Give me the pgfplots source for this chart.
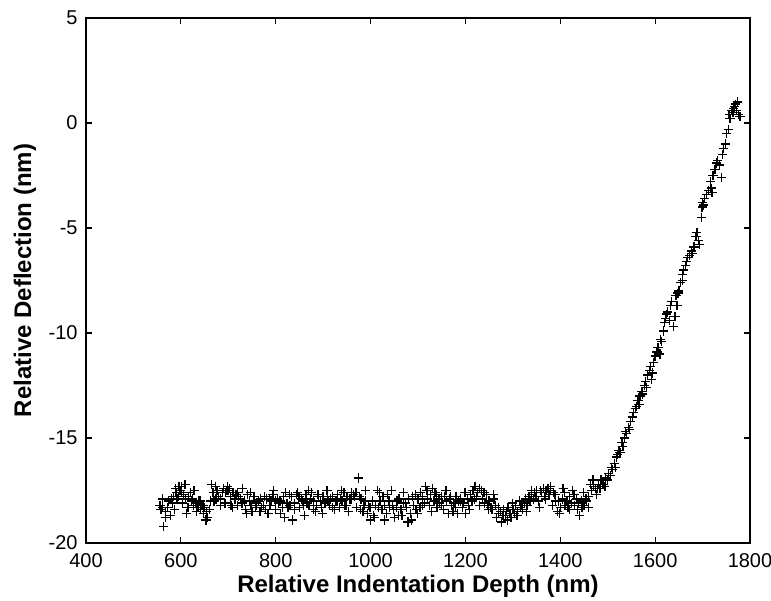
\documentclass[border=0pt]{standalone}
\usepackage{pgfplots}
\pgfplotsset{compat=1.18}
\usepackage{fontspec}
\setmainfont{Liberation Sans}
\usetikzlibrary{calc}
\begin{document}
\begin{tikzpicture}
\begin{axis}[
  scale only axis,
  width=332pt, height=262.5pt,
  xmin=400, xmax=1800, ymin=-20, ymax=5,
  xtick={400,600,...,1800}, ytick={-20,-15,...,5},
  tick align=inside, major tick length=3pt,
  axis line style={line width=0.6pt}, tick style={line width=0.6pt, black},
  /pgf/number format/assume math mode=true,
  /pgf/number format/1000 sep={},
  tick label style={font=\fontsize{10}{12}\selectfont},
  xticklabel style={inner sep=0pt, anchor=north, yshift=-5pt},
  yticklabel style={inner sep=0pt, anchor=east, xshift=-4pt},
  xlabel={Relative Indentation Depth (nm)},
  ylabel={Relative Deflection (nm)},
  label style={font=\fontsize{12}{14}\selectfont\bfseries},
  xlabel style={at={($(rel axis cs:0.5,0)+(0,-21.5pt)$)}, anchor=center},
  ylabel style={at={($(rel axis cs:0,0.5)+(-30.5pt,0)$)}, anchor=center},
]
\coordinate (SW) at (rel axis cs:0,0);
\addplot[only marks, mark=+, mark size=2.3pt, mark options={line width=0.65pt, black}] table[row sep=\\] {
x y\\
556 -18.2\\ 558 -18.4\\ 562 -18.3\\ 564 -19.2\\ 568 -18.5\\ 572 -18.3\\ 574 -18.0\\ 578 -18.7\\
580 -17.9\\ 584 -17.8\\ 586 -18.4\\ 590 -17.6\\ 592 -17.9\\ 596 -17.3\\ 598 -17.5\\ 602 -17.3\\
604 -18.1\\ 606 -17.7\\ 610 -17.9\\ 612 -18.6\\ 616 -17.8\\ 620 -17.6\\ 622 -18.0\\ 626 -18.2\\
628 -17.5\\ 632 -18.1\\ 636 -18.3\\ 638 -18.0\\ 642 -18.4\\ 644 -18.2\\ 648 -18.6\\ 650 -18.3\\
654 -18.5\\ 656 -18.8\\ 660 -18.4\\ 664 -17.2\\ 668 -17.6\\ 670 -18.0\\ 674 -17.9\\ 676 -17.5\\
680 -17.8\\ 684 -18.2\\ 688 -17.6\\ 690 -17.4\\ 694 -17.6\\ 698 -17.3\\ 700 -17.5\\ 704 -17.8\\
706 -18.2\\ 710 -17.6\\ 714 -17.9\\ 716 -17.7\\ 720 -18.2\\ 722 -17.8\\ 726 -17.9\\ 730 -17.4\\
734 -18.0\\ 736 -18.4\\ 740 -17.7\\ 744 -18.0\\ 748 -18.2\\ 750 -18.5\\ 754 -17.8\\ 758 -18.1\\
760 -18.2\\ 764 -18.0\\ 768 -17.9\\ 770 -18.3\\ 774 -18.2\\ 778 -18.4\\ 780 -17.9\\ 784 -18.6\\
788 -18.2\\ 790 -18.0\\ 794 -17.7\\ 796 -17.5\\ 800 -18.0\\ 804 -17.9\\ 806 -18.1\\ 810 -18.6\\
814 -18.3\\ 816 -17.8\\ 820 -17.6\\ 824 -18.1\\ 826 -18.3\\ 830 -18.2\\ 834 -17.8\\ 836 -18.9\\
840 -18.4\\ 844 -17.7\\ 846 -17.6\\ 850 -18.3\\ 854 -17.9\\ 856 -18.0\\ 860 -18.7\\ 864 -17.7\\
866 -18.1\\ 870 -18.2\\ 874 -17.9\\ 876 -17.6\\ 880 -18.0\\ 884 -18.5\\ 886 -18.2\\ 890 -17.8\\
894 -18.0\\ 896 -18.3\\ 900 -17.8\\ 904 -18.1\\ 908 -17.5\\ 910 -18.0\\ 914 -18.2\\ 916 -17.9\\
920 -17.8\\ 924 -18.4\\ 926 -18.0\\ 930 -17.7\\ 934 -18.3\\ 936 -17.9\\ 940 -18.0\\ 944 -17.6\\
946 -18.2\\ 950 -17.8\\ 954 -18.5\\ 956 -17.9\\ 960 -17.6\\ 964 -17.7\\ 966 -17.8\\ 970 -18.3\\
974 -16.9\\ 976 -17.8\\ 980 -17.9\\ 984 -18.5\\ 986 -18.2\\ 990 -18.0\\ 994 -18.6\\ 996 -18.2\\
1000 -18.9\\ 1004 -18.0\\ 1006 -18.7\\ 1010 -18.2\\ 1014 -17.5\\ 1016 -18.3\\ 1020 -18.0\\ 1024 -18.4\\
1026 -17.8\\ 1030 -18.2\\ 1034 -18.6\\ 1036 -17.7\\ 1040 -18.3\\ 1044 -17.5\\ 1046 -18.2\\ 1050 -18.8\\
1054 -18.3\\ 1056 -18.0\\ 1060 -17.9\\ 1064 -18.4\\ 1066 -18.7\\ 1070 -17.6\\ 1074 -18.1\\ 1076 -18.3\\
1080 -17.9\\ 1084 -18.6\\ 1086 -18.9\\ 1090 -18.2\\ 1094 -17.7\\ 1096 -18.4\\ 1100 -17.9\\ 1104 -18.3\\
1106 -17.6\\ 1110 -17.8\\ 1114 -18.1\\ 1116 -17.3\\ 1120 -17.9\\ 1124 -18.2\\ 1126 -17.7\\ 1130 -17.4\\
1134 -18.0\\ 1136 -17.6\\ 1140 -18.3\\ 1144 -17.9\\ 1146 -18.1\\ 1150 -17.8\\ 1154 -18.4\\ 1156 -17.8\\
1160 -18.0\\ 1164 -18.6\\ 1166 -17.9\\ 1170 -18.2\\ 1174 -18.5\\ 1176 -18.1\\ 1180 -17.8\\ 1184 -18.6\\
1186 -18.0\\ 1190 -17.9\\ 1194 -18.3\\ 1196 -18.1\\ 1200 -18.6\\ 1204 -17.9\\ 1206 -18.2\\ 1210 -17.7\\
1214 -18.0\\ 1216 -17.5\\ 1220 -17.3\\ 1224 -17.8\\ 1226 -17.6\\ 1230 -18.2\\ 1234 -17.5\\ 1236 -17.9\\
1240 -18.1\\ 1244 -17.7\\ 1246 -18.2\\ 1250 -18.0\\ 1254 -18.3\\ 1256 -18.4\\ 1260 -17.9\\ 1264 -18.2\\
1266 -18.8\\ 1270 -18.6\\ 1274 -18.5\\ 1276 -19.0\\ 1280 -18.4\\ 1284 -18.7\\ 1286 -18.5\\ 1290 -18.3\\
1294 -18.6\\ 1296 -18.8\\ 1300 -18.4\\ 1304 -18.6\\ 1306 -18.2\\ 1310 -18.5\\ 1314 -18.0\\ 1316 -18.3\\
1320 -18.4\\ 1324 -18.1\\ 1326 -17.9\\ 1330 -18.2\\ 1334 -17.8\\ 1336 -18.0\\ 1340 -17.7\\ 1344 -17.9\\
1346 -17.6\\ 1350 -17.5\\ 1354 -18.0\\ 1356 -18.3\\ 1360 -17.6\\ 1364 -17.4\\ 1366 -17.8\\ 1370 -17.5\\
1374 -17.4\\ 1376 -17.7\\ 1380 -17.5\\ 1384 -18.2\\ 1386 -17.6\\ 1390 -18.0\\ 1394 -18.5\\ 1396 -18.0\\
1400 -18.3\\ 1404 -17.9\\ 1406 -17.4\\ 1410 -18.2\\ 1414 -18.0\\ 1416 -18.3\\ 1420 -17.8\\ 1424 -18.1\\
1426 -17.5\\ 1430 -18.2\\ 1434 -17.9\\ 1436 -18.4\\ 1440 -18.7\\ 1444 -18.0\\ 1446 -18.3\\ 1450 -18.2\\
1454 -17.9\\ 1456 -18.0\\ 1460 -17.8\\ 1464 -17.2\\ 1466 -17.5\\ 1470 -17.3\\ 1474 -17.4\\ 1476 -17.7\\
1480 -17.2\\ 1484 -17.4\\ 1486 -17.0\\ 1490 -17.2\\
561 -17.9\\ 567 -18.8\\ 583 -18.1\\ 589 -17.4\\ 595 -17.8\\ 601 -17.6\\ 609 -17.2\\ 615 -18.3\\
625 -17.9\\ 633 -18.5\\ 641 -18.0\\ 647 -18.2\\ 653 -18.9\\ 663 -18.0\\ 673 -17.3\\ 683 -17.9\\
693 -18.1\\ 697 -17.5\\ 703 -17.4\\ 709 -18.3\\ 719 -17.6\\ 729 -18.1\\ 739 -18.6\\ 747 -17.6\\
757 -18.3\\ 767 -18.5\\ 777 -17.8\\ 787 -17.9\\ 799 -18.4\\ 809 -18.0\\ 819 -18.8\\ 829 -17.7\\
839 -18.1\\ 849 -17.8\\ 859 -18.2\\ 869 -17.5\\ 879 -18.4\\ 889 -17.7\\ 899 -18.6\\ 909 -17.9\\
919 -18.3\\ 929 -18.0\\ 939 -17.5\\ 949 -18.2\\ 959 -17.9\\ 969 -17.6\\ 979 -18.4\\ 989 -17.5\\
999 -18.3\\ 1009 -18.8\\ 1019 -17.6\\ 1029 -18.9\\ 1039 -18.0\\ 1049 -18.4\\ 1059 -18.7\\ 1069 -18.1\\
1079 -19.0\\ 1089 -17.8\\ 1099 -18.6\\ 1109 -18.2\\ 1119 -17.5\\ 1129 -18.5\\ 1139 -17.7\\ 1149 -18.2\\
1159 -17.5\\ 1169 -17.8\\ 1179 -18.3\\ 1189 -18.0\\ 1199 -17.6\\ 1209 -18.4\\ 1219 -17.9\\ 1229 -17.4\\
1239 -17.6\\ 1249 -18.4\\ 1259 -17.7\\ 1269 -18.3\\ 1279 -18.7\\ 1289 -18.9\\ 1299 -18.1\\ 1309 -18.7\\
1319 -18.2\\ 1329 -18.5\\ 1339 -17.5\\ 1349 -17.8\\ 1359 -17.5\\ 1369 -17.9\\ 1379 -17.3\\ 1389 -17.7\\
1399 -18.6\\ 1409 -17.6\\ 1419 -18.4\\ 1429 -17.7\\ 1439 -18.1\\ 1449 -17.6\\ 1459 -18.3\\ 1469 -17.0\\
1479 -17.4\\
1494 -17.3\\ 1496 -16.9\\ 1500 -17.0\\ 1502 -16.7\\ 1506 -16.8\\ 1508 -16.4\\ 1510 -16.5\\ 1514 -16.2\\
1516 -16.4\\ 1518 -15.9\\ 1520 -15.8\\ 1524 -15.6\\ 1526 -15.7\\ 1530 -15.2\\ 1532 -15.4\\ 1536 -15.0\\
1538 -14.7\\ 1540 -14.8\\ 1544 -14.5\\ 1546 -14.6\\ 1548 -14.2\\ 1552 -14.0\\ 1554 -13.8\\ 1558 -13.6\\
1560 -13.5\\ 1564 -13.2\\ 1566 -13.4\\ 1568 -13.0\\ 1572 -12.8\\ 1574 -12.9\\ 1578 -12.5\\ 1580 -12.3\\
1582 -12.6\\ 1584 -12.0\\ 1588 -11.8\\ 1590 -11.6\\ 1592 -12.2\\ 1594 -11.9\\ 1596 -11.4\\ 1600 -11.1\\
1604 -10.9\\ 1606 -10.7\\ 1610 -11.0\\ 1612 -10.3\\ 1614 -10.4\\ 1618 -9.9\\ 1620 -9.5\\ 1622 -9.3\\
1624 -9.1\\ 1626 -9.0\\ 1630 -9.4\\ 1632 -8.7\\ 1634 -8.5\\ 1638 -9.7\\ 1642 -9.2\\ 1644 -8.2\\
1646 -8.7\\ 1648 -8.1\\ 1650 -8.0\\ 1654 -7.6\\ 1657 -7.5\\ 1658 -7.2\\ 1660 -7.0\\ 1664 -6.8\\
1666 -6.6\\ 1668 -6.4\\ 1672 -6.3\\ 1676 -6.1\\ 1678 -6.2\\ 1682 -5.9\\ 1686 -5.4\\ 1688 -5.2\\
1692 -5.6\\ 1694 -5.8\\ 1698 -4.5\\ 1699 -4.0\\ 1700 -3.8\\ 1702 -3.9\\ 1704 -3.6\\ 1708 -3.4\\
1712 -3.2\\ 1716 -2.8\\ 1718 -3.1\\ 1720 -3.3\\ 1722 -2.5\\ 1726 -2.2\\ 1730 -1.9\\ 1732 -1.8\\
1736 -2.0\\ 1740 -2.6\\ 1742 -1.5\\ 1744 -1.2\\ 1748 -1.0\\ 1750 -0.5\\ 1754 -0.3\\ 1756 0.4\\
1758 0.2\\ 1762 0.6\\ 1764 0.5\\ 1766 0.7\\ 1768 0.8\\ 1770 0.9\\ 1772 0.6\\ 1774 1.0\\
1776 0.4\\ 1778 0.3\\ 1780 0.3\\
};
\end{axis}
\pgfresetboundingbox
\path[use as bounding box] ($(SW)+(-43pt,-28.5pt)$) rectangle ++(385.5pt,300pt);
\end{tikzpicture}
\end{document}
